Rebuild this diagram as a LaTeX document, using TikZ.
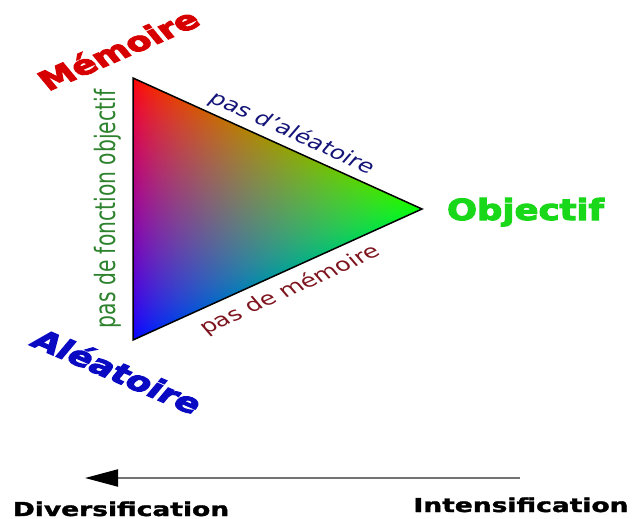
\documentclass[tikz,border=0pt]{standalone}
\usepackage{fontspec}
\setmainfont{DejaVu Sans}
\newfontfamily\heavyfont[FakeBold=3.5]{DejaVu Sans Bold}
\newfontfamily\midheavyfont[FakeBold=1.5]{DejaVu Sans Bold}
\usetikzlibrary{arrows.meta}
\definecolor{memred}{RGB}{215,0,0}
\definecolor{alblue}{RGB}{10,10,195}
\definecolor{objgreen}{RGB}{25,215,25}
\definecolor{fgreen}{RGB}{45,130,45}
\definecolor{navyc}{RGB}{20,20,120}
\definecolor{dredc}{RGB}{125,20,30}
\definecolor{arrowgray}{RGB}{115,115,115}
\pgfdeclarefunctionalshading{rgbtri}{\pgfpoint{0bp}{0bp}}{\pgfpoint{100bp}{100bp}}{}{
 25 sub 50 div exch 25 sub 50 div dup 0.5 mul 3 -1 roll exch sub 2 copy add 1 exch sub 3 -1 roll exch
 abs 0.72 exp 3 1 roll abs 0.72 exp 3 1 roll abs 0.72 exp 3 1 roll
}
\tikzset{
  bigword/.style={font=\heavyfont\fontsize{26.5}{30}\selectfont, inner sep=0pt},
  edgeword/.style={font=\fontsize{18.5}{21}\selectfont, inner sep=0pt},
  sideword/.style={font=\fontsize{20.3}{24}\selectfont, inner sep=0pt},
  axisword/.style={font=\midheavyfont\fontsize{19.2}{22}\selectfont, inner sep=0pt, anchor=base},
  outline/.style={draw=black, line width=1.5pt, line join=miter},
  axisline/.style={draw=arrowgray, line width=2pt, -{Triangle[length=33pt,width=17pt,color=black]}}
}
\begin{document}
\begin{tikzpicture}[x=1pt,y=-1pt]
\useasboundingbox (0,0) rectangle (632,519);
\coordinate (A) at (133,78);
\coordinate (O) at (422,209);
\coordinate (L) at (133,340);
\shade[shading=rgbtri] (A) -- (O) -- (L) -- cycle;
\draw[outline] (A) -- (O) -- (L) -- cycle;
\node[bigword, text=memred, xscale=1.38, rotate=31] (mem) at (118,49) {Mémoire};
\node[bigword, text=alblue, xscale=1.4, rotate=-31] (ale) at (118,371) {Aléatoire};
\node[bigword, text=objgreen, font=\heavyfont\fontsize{29}{32}\selectfont, xscale=1.22, anchor=base] (obj) at (525.5,220) {Objectif};
\node[edgeword, text=navyc, xscale=1.38, rotate=-32] (pda) at (292,133) {pas d'aléatoire};
\node[edgeword, text=dredc, xscale=1.38, rotate=32] (pdm) at (290,290) {pas de mémoire};
\node[sideword, text=fgreen, xscale=1.38, rotate=90] (pdf) at (107.5,209) {pas de fonction objectif};
\node[axisword, xscale=1.38] (div) at (121,516) {Diversification};
\node[axisword, xscale=1.38] (int) at (521,512) {Intensification};
\coordinate (arrR) at (520,478);
\coordinate (arrL) at (85,478);
\draw[axisline] (arrR) -- (arrL);
\end{tikzpicture}
\end{document}
